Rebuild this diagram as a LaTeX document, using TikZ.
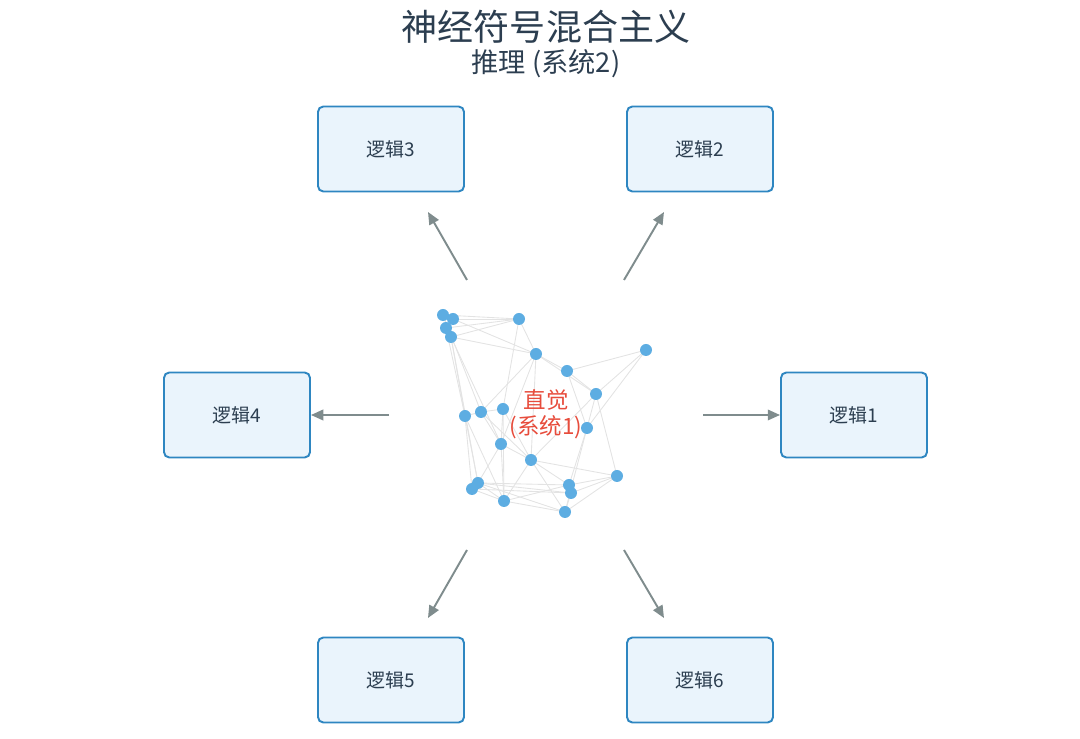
\documentclass[tikz,border=0pt]{standalone}
\usepackage{fontspec}
\setmainfont{Noto Sans CJK SC}
\usepackage{tikz}
\usetikzlibrary{arrows.meta, positioning, calc}

\definecolor{titlecol}{HTML}{2C3E50}
\definecolor{boxline}{HTML}{2E86C1}
\definecolor{boxfill}{HTML}{EAF4FC}
\definecolor{dotcol}{HTML}{5DADE2}
\definecolor{arrowcol}{HTML}{7F8C8D}
\definecolor{sysred}{HTML}{E74C3C}

\tikzset{
    logicbox/.style={draw=boxline, fill=boxfill, line width=1.1pt, rounded corners=3pt,
        minimum width=2.92cm, minimum height=1.7cm, text=titlecol,
        font=\fontsize{10.8}{13}\selectfont},
    neuron/.style={circle, fill=dotcol, inner sep=0pt, minimum size=0.24cm},
    link/.style={draw=gray!22, line width=0.5pt},
    flow/.style={draw=arrowcol, line width=1.1pt, -{Triangle[length=7pt, width=6pt]}}
}

\begin{document}
\begin{tikzpicture}[x=0.02cm, y=-0.02cm]
    \useasboundingbox (0,0) rectangle (1080,739);

    % Title
    \node[text=titlecol, font=\fontsize{20.5}{24}\selectfont] (title) at (546,27) {神经符号混合主义};
    \node[text=titlecol, font=\fontsize{15.5}{18}\selectfont] (subtitle) at (546,64) {推理 (系统2)};

    % Neural network (system 1)
    \foreach \name/\x/\y in {n1/443/315, n2/453/319, n3/446/328, n4/451/337, n5/519/319,
        n6/536/354, n7/567/371, n8/646/350, n9/596/394, n10/465/416, n11/481/412,
        n12/503/409, n13/587/428, n14/501/444, n15/531/460, n16/617/476, n17/478/483,
        n18/472/489, n19/569/485, n20/571/493, n21/504/501, n22/565/512}
        \coordinate (\name) at (\x,\y);
    \foreach \a/\b in {n1/n5, n2/n5, n3/n5, n4/n5, n1/n2, n2/n3, n3/n4, n1/n4, n2/n6, n4/n6,
        n5/n6, n6/n7, n7/n9, n7/n8, n9/n8, n6/n9, n9/n16, n9/n13, n13/n19, n13/n22, n7/n13,
        n4/n10, n4/n17, n4/n14, n10/n11, n11/n12, n10/n17, n10/n18, n11/n14, n11/n15,
        n14/n15, n14/n17, n14/n21, n15/n21, n15/n19, n15/n22, n15/n16, n17/n19, n17/n21,
        n18/n21, n21/n19, n21/n22, n19/n16, n20/n16, n22/n16, n12/n15, n12/n14, n6/n14,
        n5/n12, n6/n11, n1/n11, n3/n10, n20/n22, n19/n20, n8/n13, n18/n20, n17/n20,
        n10/n21, n12/n21, n9/n15, n6/n15, n17/n22}
        \draw[link] (\a) -- (\b);
    \foreach \name in {n1,n2,n3,n4,n5,n6,n7,n8,n9,n10,n11,n12,n13,n14,n15,n16,n17,n18,n19,n20,n21,n22}
        \node[neuron] at (\name) {};
    \node[text=sysred, align=center, font=\fontsize{12.8}{15}\selectfont] (intuition) at (546,414) {直觉\\(系统1)};

    % Logic modules (system 2)
    \node[logicbox] (logic1) at (854,415) {逻辑1};
    \node[logicbox] (logic2) at (700,149) {逻辑2};
    \node[logicbox] (logic3) at (391,149) {逻辑3};
    \node[logicbox] (logic4) at (237,415) {逻辑4};
    \node[logicbox] (logic5) at (391,680) {逻辑5};
    \node[logicbox] (logic6) at (700,680) {逻辑6};

    % Arrows out of the network
    \coordinate (s1) at (703,415);
    \coordinate (s2) at (624,280);
    \coordinate (s3) at (467,280);
    \coordinate (s4) at (389,415);
    \coordinate (s5) at (467,550);
    \coordinate (s6) at (624,550);
    \coordinate (e2) at (664,212);
    \coordinate (e3) at (428,212);
    \coordinate (e5) at (428,618);
    \coordinate (e6) at (664,618);
    \draw[flow] (s1) -- (logic1.west);
    \draw[flow] (s2) -- (e2);
    \draw[flow] (s3) -- (e3);
    \draw[flow] (s4) -- (logic4.east);
    \draw[flow] (s5) -- (e5);
    \draw[flow] (s6) -- (e6);
\end{tikzpicture}
\end{document}
